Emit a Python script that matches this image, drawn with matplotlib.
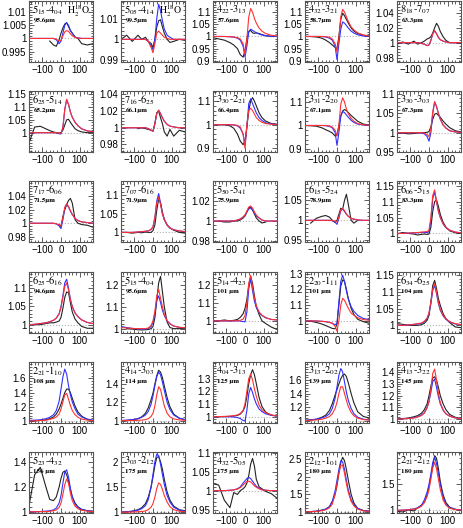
import numpy as np
import matplotlib
matplotlib.use('Agg')
import matplotlib.pyplot as plt
from matplotlib.ticker import AutoMinorLocator, MultipleLocator

plt.rcParams['mathtext.fontset'] = 'stix'
plt.rcParams['font.family'] = ['Liberation Sans', 'DejaVu Sans']

nan = np.nan
# velocity grid (km/s)
vel = [-170, -140, -110, -80, -60, -40, -25, -10, 0, 10, 20, 30, 40, 50, 60, 75, 90, 110, 140, 170]

upper = ['5_{15}', '5_{05}', '4_{22}', '4_{32}', '8_{18}',
         '6_{25}', '7_{16}', '3_{30}', '3_{31}', '3_{30}',
         '7_{17}', '7_{07}', '5_{50}', '6_{15}', '6_{06}',
         '6_{25}', '5_{15}', '5_{14}', '2_{20}', '6_{34}',
         '2_{21}', '4_{14}', '4_{04}', '3_{13}', '4_{13}',
         '5_{23}', '3_{03}', '4_{32}', '2_{12}', '2_{21}']
lower = ['4_{04}', '4_{14}', '3_{13}', '3_{21}', '7_{07}',
         '5_{14}', '6_{25}', '2_{21}', '2_{20}', '3_{03}',
         '6_{06}', '6_{16}', '5_{41}', '5_{24}', '5_{15}',
         '6_{16}', '4_{04}', '4_{23}', '1_{11}', '6_{25}',
         '1_{10}', '3_{03}', '3_{13}', '2_{02}', '3_{22}',
         '4_{32}', '2_{12}', '5_{05}', '1_{01}', '2_{12}']
wave = ['95.6µm', '99.5µm', '57.6µm', '58.7µm', '63.3µm',
        '65.2µm', '66.1µm', '66.4µm', '67.1µm', '67.3µm',
        '71.5µm', '71.9µm', '75.9µm', '78.9µm', '83.3µm',
        '94.6µm', '95.6µm', '101 µm', '101 µm', '104 µm',
        '108 µm', '114 µm', '125 µm', '139 µm', '145 µm',
        '156 µm', '175 µm', '175 µm', '180 µm', '180 µm']
isotopologue = [True, True] + [False] * 28

yticks = [[0.995, 1, 1.005, 1.01], [0.99, 1, 1.01], [0.9, 0.95, 1, 1.05, 1.1], [0.9, 0.95, 1, 1.05, 1.1], [0.98, 1, 1.02, 1.04],
          [1, 1.05, 1.1, 1.15], [0.98, 1, 1.02, 1.04], [0.9, 1, 1.1], [0.9, 1, 1.1], [0.95, 1, 1.05, 1.1],
          [0.98, 1, 1.02, 1.04], [1, 1.05, 1.1], [0.98, 1, 1.02], [0.95, 1, 1.05], [1, 1.05, 1.1, 1.15],
          [1, 1.05, 1.1], [1, 1.1, 1.2], [1, 1.1, 1.2], [1, 1.1, 1.2, 1.3], [1, 1.05, 1.1, 1.15],
          [1, 1.2, 1.4, 1.6], [1, 1.2, 1.4], [1, 1.1, 1.2, 1.3], [1, 1.2, 1.4, 1.6], [1, 1.1, 1.2, 1.3, 1.4],
          [1, 1.2, 1.4], [1, 1.5, 2], [0.95, 1, 1.05, 1.1], [1, 1.5, 2, 2.5], [1, 1.5]]
ylims = [(0.991, 1.0143), (0.989, 1.0186), (0.895, 1.146), (0.895, 1.146), (0.974, 1.056),
         (0.925, 1.162), (0.971, 1.044), (0.884, 1.143), (0.887, 1.147), (0.95, 1.108),
         (0.972, 1.063), (0.974, 1.139), (0.979, 1.04), (0.946, 1.098), (0.973, 1.165),
         (0.977, 1.145), (0.98, 1.26), (0.932, 1.274), (0.923, 1.31), (0.977, 1.16),
         (0.975, 1.83), (0.973, 1.64), (0.95, 1.43), (0.964, 1.867), (0.967, 1.486),
         (0.99, 1.484), (0.985, 2.19), (0.941, 1.102), (0.97, 2.7), (0.95, 2.12)]

# observed spectra
obs = [
    [nan, nan, nan, nan, 0.999, 0.9975, 0.997, 0.9995, 1.002, 1.004, 1.0055, 1.006, 1.0045, 1.003, 1.002, 1.0005, 1.0, 0.998, 0.9975, 0.998],
    [1.0, 1.002, 0.999, 1.002, 1.0, 1.001, 0.999, 0.998, 0.996, 1.0, 1.006, 1.009, 1.0095, 1.006, 1.003, 1.0, 0.9985, 0.999, 1.0, 0.9995],
    [0.995, 0.99, 0.985, 0.975, 0.965, 0.95, 0.925, 0.915, 0.94, 0.99, 1.02, 1.025, 1.015, 1.013, 1.015, 1.012, 1.008, 1.003, 1.0, 1.0],
    [1, 1, 0.998, 0.993, 0.985, 0.975, 0.965, 0.955, 0.95, 1.0, 1.07, 1.096, 1.085, 1.07, 1.055, 1.035, 1.022, 1.012, 1.005, 1.002],
    [0.998, 1.001, 0.998, 1.002, 0.998, 1.0, 1.002, 1.005, 1.006, 1.008, 1.013, 1.02, 1.026, 1.022, 1.015, 1.008, 1.003, 1.0, 1.0, 0.999],
    [0.96, 1.022, 1.025, 1.015, 1.008, 1.003, 1.0, 0.999, 1.0, 1.01, 1.03, 1.05, 1.052, 1.04, 1.03, 1.015, 1.008, 1.003, 1.0, 1.0],
    [nan, nan, nan, 0.999, 1.0, 0.999, 0.998, 0.997, 0.996, 1.005, 1.018, 1.02, 1.012, 1.005, 0.995, 0.99, 0.998, 0.99, 0.997, 0.995],
    [1, 1, 1, 0.995, 0.985, 0.96, 0.93, 0.915, 0.93, 0.99, 1.06, 1.1, 1.115, 1.1, 1.08, 1.05, 1.03, 1.015, 1.005, 1.002],
    [1, 0.999, 0.997, 0.99, 0.982, 0.975, 0.968, 0.955, 0.96, 1.0, 1.04, 1.062, 1.068, 1.063, 1.055, 1.043, 1.032, 1.018, 1.006, 1.002],
    [1, 0.999, 0.997, 0.998, 0.999, 1.0, 1.0, 1.001, 1.003, 1.015, 1.035, 1.048, 1.05, 1.045, 1.04, 1.03, 1.022, 1.013, 1.005, 1.002],
    [nan, nan, nan, nan, nan, nan, nan, 0.998, 0.995, 1.01, 1.02, 1.028, 1.034, 1.037, 1.03, 1.005, 1.0, 0.998, 0.997, 0.994],
    [1.0, 1.0, 0.998, 1.0, 0.999, 1.001, 1.0, 1.0, 1.005, 1.02, 1.06, 1.09, 1.08, 1.055, 1.035, 1.02, 1.012, 1.006, 1.0, 0.998],
    [nan, 1.0, 0.999, 0.999, 1.0, 1.0, 1.001, 1.003, 1.005, 1.009, 1.013, 1.014, 1.011, 1.007, 1.003, 1.0, 0.998, 0.999, nan, nan],
    [nan, 0.993, 1.005, 1.01, 1.012, 1.008, 1.0, 0.995, 1.0, 1.015, 1.03, 1.028, 1.05, 1.065, 1.04, 1.0, 0.993, 1.0, nan, nan],
    [0.998, 1.003, 1.0, 0.998, 0.995, 0.997, 0.998, 0.997, 0.998, 1.02, 1.07, 1.1, 1.105, 1.085, 1.06, 1.035, 1.02, 1.008, 1.002, 1.0],
    [nan, 1.0, 1.0, 1.003, 1.005, 1.005, 1.007, 1.01, 1.02, 1.045, 1.075, 1.09, 1.088, 1.06, 1.035, 1.015, 1.005, 0.995, 0.99, 0.99],
    [nan, 1.0, 0.998, 0.995, 0.994, 0.995, 0.996, 1.0, 1.01, 1.05, 1.13, 1.21, 1.24, 1.17, 1.1, 1.03, 1.005, 1.0, 1.0, 1.0],
    [1.0, 1.0, 1.005, 1.0, 1.003, 1.008, 1.02, 1.04, 1.07, 1.12, 1.2, 1.25, 1.21, 1.14, 1.08, 1.035, 1.0, 0.985, 0.965, 0.952],
    [1.0, 0.998, 0.99, 0.98, 0.97, 0.96, 0.952, 0.95, 0.98, 1.1, 1.22, 1.26, 1.25, 1.2, 1.14, 1.08, 1.04, 1.01, 0.995, 0.985],
    [1.005, 1.003, 1.0, 1.0, 1.0, 1.002, 1.006, 1.015, 1.03, 1.07, 1.12, 1.135, 1.11, 1.08, 1.06, 1.035, 1.02, 1.008, 0.995, 0.993],
    [1.0, 1.005, 1.01, 1.02, 1.035, 1.06, 1.1, 1.17, 1.24, 1.32, 1.4, 1.45, 1.45, 1.4, 1.32, 1.21, 1.13, 1.07, 1.025, 1.01],
    [1.0, 1.0, 1.005, 1.02, 1.04, 1.08, 1.14, 1.23, 1.3, 1.4, 1.49, 1.55, 1.53, 1.47, 1.38, 1.25, 1.15, 1.07, 1.025, 1.01],
    [1, 1, 1, 1.002, 1.005, 1.01, 1.02, 1.045, 1.08, 1.16, 1.26, 1.33, 1.37, 1.33, 1.26, 1.15, 1.08, 1.035, 1.012, 1.005],
    [1.0, 1.01, 1.02, 1.05, 1.08, 1.15, 1.25, 1.38, 1.46, 1.54, 1.62, 1.67, 1.69, 1.65, 1.56, 1.4, 1.26, 1.13, 1.06, 1.04],
    [1, 1.004, 1.01, 1.02, 1.03, 1.05, 1.08, 1.13, 1.2, 1.28, 1.35, 1.36, 1.33, 1.27, 1.2, 1.13, 1.08, 1.04, 1.015, 1.005],
    [1.05, 1.3, 1.36, 1.2, 1.1, 1.09, 1.12, 1.2, 1.27, 1.32, 1.33, 1.3, 1.25, 1.18, 1.12, 1.07, 1.04, 1.02, 1.008, 1.004],
    [1.0, 1.01, 1.02, 1.05, 1.09, 1.17, 1.3, 1.5, 1.7, 1.92, 2.08, 2.1, 2.0, 1.85, 1.65, 1.4, 1.24, 1.12, 1.05, 1.03],
    [1.018, 1.015, 0.975, 0.955, 0.995, 0.99, 1.0, 1.005, 1.01, 1.02, 1.04, 1.07, 1.085, 1.065, 1.03, 1.01, 1.005, 0.998, 0.992, 0.98],
    [1.0, 1.01, 1.02, 1.05, 1.08, 1.15, 1.3, 1.5, 1.75, 2.1, 2.4, 2.55, 2.45, 2.2, 1.9, 1.5, 1.25, 1.1, 1.04, 1.02],
    [0.98, 0.97, 1.01, 0.99, 1.05, 1.1, 1.15, 1.3, 1.45, 1.65, 1.85, 2.05, 2.0, 1.8, 1.55, 1.3, 1.15, 1.06, 1.02, 1.0],
]

# model A (blue)
model_blue = [
    [1, 1, 1, 1, 1, 1, 0.9995, 0.998, 0.999, 1.002, 1.005, 1.006, 1.005, 1.003, 1.002, 1.0005, 1.0002, 1, 1, 1],
    [1, 1, 1, 1, 1, 1, 0.999, 0.997, 0.995, 1.0, 1.01, 1.017, 1.014, 1.009, 1.005, 1.002, 1.001, 1, 1, 1],
    [1, 1, 1, 0.999, 0.997, 0.993, 0.985, 0.96, 0.915, 0.96, 1.02, 1.03, 1.025, 1.02, 1.015, 1.01, 1.006, 1.003, 1.001, 1],
    [1, 1, 1, 1, 0.998, 0.993, 0.985, 0.96, 0.905, 0.97, 1.03, 1.06, 1.055, 1.045, 1.035, 1.022, 1.014, 1.007, 1.002, 1.001],
    [1, 1, 1, 1, 1, 0.999, 0.998, 0.996, 0.997, 1.003, 1.012, 1.016, 1.012, 1.007, 1.004, 1.002, 1.001, 1, 1, 1],
    [1, 1, 1, 1, 1, 1, 0.999, 0.996, 0.995, 1.02, 1.09, 1.128, 1.11, 1.08, 1.06, 1.04, 1.027, 1.015, 1.007, 1.004],
    [1, 1, 1, 1, 1, 1, 0.999, 0.997, 0.996, 1.005, 1.017, 1.021, 1.017, 1.012, 1.008, 1.004, 1.002, 1.001, 1, 1],
    [1, 1, 1, 1, 0.999, 0.995, 0.985, 0.96, 0.91, 0.99, 1.09, 1.11, 1.09, 1.07, 1.05, 1.03, 1.018, 1.008, 1.003, 1.001],
    [1, 1, 1, 1, 0.999, 0.996, 0.99, 0.97, 0.915, 0.97, 1.04, 1.06, 1.055, 1.045, 1.035, 1.022, 1.013, 1.006, 1.002, 1.001],
    [1, 1, 1, 1, 1, 0.999, 0.997, 0.99, 0.978, 1.0, 1.05, 1.08, 1.068, 1.05, 1.035, 1.02, 1.012, 1.005, 1.002, 1.001],
    [1, 1, 1, 1, 1, 1, 0.999, 0.996, 0.992, 1.005, 1.022, 1.028, 1.024, 1.018, 1.013, 1.007, 1.004, 1.002, 1.001, 1],
    [1, 1, 1, 1.001, 1.002, 1.003, 1.004, 1.008, 1.015, 1.04, 1.085, 1.105, 1.08, 1.05, 1.035, 1.02, 1.012, 1.007, 1.004, 1.002],
    [1, 1, 1, 1, 1, 1.001, 1.002, 1.004, 1.006, 1.009, 1.012, 1.013, 1.011, 1.008, 1.005, 1.003, 1.001, 1, 1, 1],
    [1, 1, 1, 1, 1, 1, 0.999, 0.995, 0.99, 1.005, 1.024, 1.028, 1.022, 1.015, 1.01, 1.005, 1.003, 1.001, 1, 1],
    [1, 1, 1.001, 1.002, 1.002, 1.003, 1.003, 1.003, 1.005, 1.04, 1.11, 1.13, 1.1, 1.07, 1.05, 1.03, 1.018, 1.01, 1.004, 1.002],
    [1, 1.001, 1.003, 1.005, 1.008, 1.012, 1.018, 1.03, 1.05, 1.08, 1.115, 1.125, 1.1, 1.07, 1.05, 1.032, 1.022, 1.013, 1.006, 1.003],
    [1.01, 1.005, 1.001, 0.999, 0.998, 0.998, 1.0, 1.01, 1.03, 1.07, 1.13, 1.15, 1.12, 1.085, 1.06, 1.035, 1.022, 1.012, 1.006, 1.004],
    [1, 1, 1, 1, 1, 1, 0.999, 0.996, 0.995, 1.05, 1.18, 1.235, 1.17, 1.11, 1.075, 1.045, 1.03, 1.017, 1.008, 1.005],
    [1, 1, 0.999, 0.997, 0.995, 0.99, 0.985, 0.975, 0.985, 1.12, 1.25, 1.29, 1.25, 1.19, 1.14, 1.09, 1.06, 1.035, 1.015, 1.008],
    [1, 1, 1.001, 1.003, 1.004, 1.006, 1.01, 1.02, 1.035, 1.065, 1.105, 1.12, 1.095, 1.065, 1.045, 1.028, 1.018, 1.01, 1.004, 1.002],
    [1.01, 1.015, 1.02, 1.035, 1.055, 1.09, 1.15, 1.28, 1.45, 1.62, 1.73, 1.66, 1.5, 1.37, 1.27, 1.17, 1.1, 1.06, 1.03, 1.015],
    [1.0, 1.005, 1.01, 1.02, 1.035, 1.06, 1.1, 1.18, 1.27, 1.38, 1.48, 1.53, 1.5, 1.42, 1.33, 1.2, 1.12, 1.06, 1.025, 1.01],
    [1, 1, 1, 0.999, 0.997, 0.993, 0.985, 0.97, 0.965, 1.05, 1.18, 1.23, 1.19, 1.14, 1.1, 1.06, 1.04, 1.022, 1.01, 1.005],
    [1.005, 1.01, 1.02, 1.04, 1.06, 1.1, 1.18, 1.33, 1.5, 1.67, 1.77, 1.72, 1.57, 1.42, 1.3, 1.18, 1.1, 1.05, 1.02, 1.01],
    [1, 1.003, 1.006, 1.012, 1.02, 1.035, 1.055, 1.1, 1.15, 1.23, 1.32, 1.34, 1.27, 1.19, 1.13, 1.075, 1.045, 1.025, 1.01, 1.005],
    [1, 1, 1.002, 1.005, 1.008, 1.015, 1.03, 1.07, 1.13, 1.23, 1.32, 1.34, 1.28, 1.19, 1.12, 1.06, 1.035, 1.018, 1.008, 1.004],
    [1.0, 1.01, 1.02, 1.04, 1.07, 1.13, 1.25, 1.5, 1.75, 2.0, 2.15, 2.12, 1.95, 1.75, 1.55, 1.33, 1.2, 1.1, 1.04, 1.02],
    [1, 1, 1, 1.001, 1.002, 1.005, 1.01, 1.02, 1.026, 1.032, 1.035, 1.032, 1.025, 1.018, 1.012, 1.006, 1.003, 1.001, 1, 1],
    [1.0, 1.01, 1.02, 1.05, 1.08, 1.15, 1.3, 1.6, 1.9, 2.2, 2.45, 2.42, 2.2, 1.9, 1.62, 1.35, 1.2, 1.1, 1.04, 1.02],
    [1.0, 1.005, 1.01, 1.03, 1.05, 1.1, 1.2, 1.35, 1.5, 1.7, 1.92, 2.02, 1.9, 1.7, 1.5, 1.25, 1.12, 1.05, 1.02, 1.01],
]

# model B (red)
model_red = [
    [1, 1, 1, 1, 1, 1, 0.9997, 0.999, 0.9993, 1.001, 1.0025, 1.003, 1.0027, 1.0018, 1.001, 1.0004, 1.0001, 1, 1, 1],
    [1, 1, 1, 1, 1, 1, 0.999, 0.996, 0.9935, 0.998, 1.003, 1.004, 1.003, 1.002, 1.001, 1.0005, 1.0, 1, 1, 1],
    [1, 1, 1, 0.999, 0.998, 0.995, 0.99, 0.97, 0.925, 0.99, 1.08, 1.115, 1.1, 1.075, 1.055, 1.035, 1.022, 1.012, 1.005, 1.002],
    [1, 1, 1, 1, 0.999, 0.997, 0.99, 0.97, 0.935, 0.99, 1.08, 1.112, 1.1, 1.08, 1.062, 1.04, 1.027, 1.015, 1.006, 1.003],
    [1, 1, 1, 1, 1, 0.999, 0.998, 0.996, 0.997, 1.003, 1.012, 1.016, 1.012, 1.007, 1.004, 1.002, 1.001, 1, 1, 1],
    [1, 1, 1, 1, 1, 1, 1, 0.998, 0.998, 1.02, 1.09, 1.13, 1.11, 1.08, 1.06, 1.04, 1.027, 1.015, 1.007, 1.004],
    [1, 1, 1, 1, 1, 1, 0.999, 0.997, 0.996, 1.005, 1.017, 1.021, 1.017, 1.012, 1.008, 1.004, 1.002, 1.001, 1, 1],
    [1, 1, 1, 1, 0.999, 0.997, 0.99, 0.96, 0.9, 1.0, 1.06, 1.07, 1.06, 1.045, 1.03, 1.018, 1.01, 1.005, 1.002, 1.001],
    [1, 1, 1, 1, 1, 0.998, 0.993, 0.98, 0.955, 1.0, 1.09, 1.118, 1.1, 1.07, 1.05, 1.03, 1.018, 1.008, 1.003, 1.001],
    [1, 1, 1, 1, 1, 1, 0.999, 0.995, 0.99, 1.01, 1.055, 1.08, 1.068, 1.05, 1.035, 1.02, 1.012, 1.005, 1.002, 1.001],
    [1, 1, 1, 1, 1, 1, 0.999, 0.998, 0.996, 1.008, 1.024, 1.029, 1.025, 1.019, 1.013, 1.007, 1.004, 1.002, 1.001, 1],
    [1, 1, 1, 1.001, 1.002, 1.003, 1.004, 1.008, 1.015, 1.04, 1.08, 1.095, 1.075, 1.05, 1.035, 1.02, 1.012, 1.007, 1.004, 1.002],
    [1, 1, 1, 1, 1, 1.001, 1.002, 1.004, 1.006, 1.01, 1.014, 1.015, 1.013, 1.009, 1.006, 1.003, 1.001, 1, 1, 1],
    [1, 1, 1, 1, 1, 1, 1, 0.998, 0.996, 1.008, 1.026, 1.03, 1.024, 1.016, 1.01, 1.005, 1.003, 1.001, 1, 1],
    [1, 1, 1.001, 1.002, 1.003, 1.004, 1.005, 1.006, 1.01, 1.05, 1.12, 1.137, 1.1, 1.07, 1.05, 1.03, 1.018, 1.01, 1.004, 1.002],
    [1, 1.001, 1.003, 1.005, 1.008, 1.012, 1.018, 1.03, 1.047, 1.075, 1.105, 1.115, 1.095, 1.068, 1.05, 1.032, 1.022, 1.013, 1.006, 1.003],
    [1.005, 1.003, 1.001, 1.0, 1.0, 1.0, 1.003, 1.015, 1.035, 1.08, 1.15, 1.18, 1.14, 1.1, 1.065, 1.037, 1.023, 1.012, 1.006, 1.004],
    [1, 1, 1, 1, 1, 1.001, 1.003, 1.01, 1.03, 1.1, 1.21, 1.255, 1.19, 1.13, 1.085, 1.05, 1.032, 1.018, 1.008, 1.005],
    [1, 1, 0.999, 0.997, 0.995, 0.99, 0.985, 0.965, 0.935, 1.0, 1.1, 1.143, 1.13, 1.105, 1.08, 1.05, 1.035, 1.02, 1.008, 1.004],
    [1, 1, 1.001, 1.003, 1.005, 1.007, 1.012, 1.022, 1.038, 1.07, 1.11, 1.125, 1.1, 1.068, 1.047, 1.03, 1.02, 1.011, 1.005, 1.002],
    [1.0, 1.005, 1.01, 1.015, 1.025, 1.04, 1.06, 1.1, 1.17, 1.27, 1.37, 1.39, 1.31, 1.22, 1.15, 1.09, 1.055, 1.03, 1.015, 1.008],
    [1.0, 1.0, 1.0, 1.002, 1.005, 1.01, 1.02, 1.045, 1.08, 1.16, 1.28, 1.37, 1.34, 1.25, 1.16, 1.08, 1.04, 1.018, 1.007, 1.003],
    [1, 1, 1.002, 1.004, 1.007, 1.013, 1.025, 1.05, 1.1, 1.2, 1.3, 1.335, 1.29, 1.22, 1.16, 1.09, 1.055, 1.03, 1.013, 1.006],
    [1.0, 1.005, 1.01, 1.02, 1.035, 1.06, 1.1, 1.18, 1.27, 1.4, 1.5, 1.5, 1.4, 1.3, 1.21, 1.12, 1.07, 1.035, 1.015, 1.007],
    [1, 1.002, 1.005, 1.01, 1.018, 1.03, 1.05, 1.095, 1.15, 1.25, 1.39, 1.425, 1.33, 1.22, 1.14, 1.08, 1.045, 1.025, 1.01, 1.005],
    [1, 1, 1.001, 1.002, 1.004, 1.008, 1.015, 1.035, 1.07, 1.14, 1.22, 1.265, 1.23, 1.15, 1.09, 1.045, 1.025, 1.012, 1.005, 1.002],
    [1.0, 1.002, 1.005, 1.01, 1.015, 1.025, 1.05, 1.1, 1.17, 1.3, 1.47, 1.58, 1.55, 1.45, 1.33, 1.2, 1.11, 1.05, 1.02, 1.01],
    [1, 1, 1, 1.001, 1.002, 1.004, 1.008, 1.015, 1.02, 1.024, 1.025, 1.023, 1.018, 1.013, 1.009, 1.005, 1.002, 1.001, 1, 1],
    [1.0, 1.008, 1.015, 1.035, 1.06, 1.12, 1.22, 1.5, 1.8, 2.1, 2.32, 2.33, 2.1, 1.8, 1.55, 1.3, 1.17, 1.08, 1.03, 1.015],
    [1.0, 1.005, 1.01, 1.025, 1.04, 1.08, 1.15, 1.27, 1.4, 1.6, 1.82, 1.92, 1.8, 1.6, 1.4, 1.2, 1.1, 1.04, 1.015, 1.008],
]

W, H = 463, 528
col_left = [29, 121, 213, 305, 397]
row_top = [1, 91, 181, 272, 362, 452]
pw, ph = 64, 61

fig = plt.figure(figsize=(W / 100, H / 100), dpi=100)

for k in range(30):
    r, c = divmod(k, 5)
    ax = fig.add_axes([col_left[c] / W, 1 - (row_top[r] + ph) / H, pw / W, ph / H])
    ax.axhline(1, color='#b0b0b0', ls=':', lw=0.8, zorder=1)
    ax.plot(vel, obs[k], color='#222222', lw=0.8, zorder=2)
    ax.plot(vel, model_blue[k], color='#3030ff', lw=0.8, zorder=3)
    ax.plot(vel, model_red[k], color='#ff3030', lw=0.8, zorder=4)
    ax.set_xlim(-170, 170)
    ax.set_ylim(*ylims[k])
    ax.set_xticks([-100, 0, 100])
    ax.xaxis.set_minor_locator(MultipleLocator(20))
    ax.set_yticks(yticks[k])
    ax.set_yticklabels(['%g' % t for t in yticks[k]])
    ax.yaxis.set_minor_locator(AutoMinorLocator(5))
    ax.tick_params(which='both', direction='in', top=True, right=True, labelsize=7, pad=2, width=0.6, color='#444444')
    ax.tick_params(which='major', length=3.5)
    ax.tick_params(which='minor', length=1.8)
    for s in ax.spines.values():
        s.set_linewidth(0.8)
        s.set_color('#555555')
    ax.text(0.05, 0.96, '$%s$-$%s$' % (upper[k], lower[k]), transform=ax.transAxes,
            ha='left', va='top', fontsize=7.5, family='STIXGeneral')
    ax.text(0.07, 0.72, wave[k], transform=ax.transAxes, ha='left', va='top',
            fontsize=5, family='STIXGeneral', fontweight='bold')
    if isotopologue[k]:
        ax.text(0.96, 0.97, r'H$_2^{18}$O', transform=ax.transAxes, ha='right', va='top',
                fontsize=7, family='STIXGeneral')

fig.savefig('out.png', dpi=100)
